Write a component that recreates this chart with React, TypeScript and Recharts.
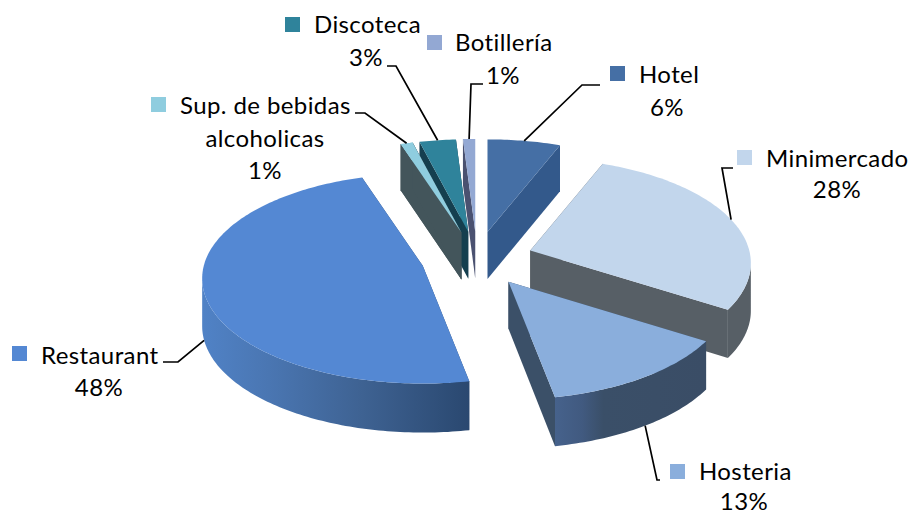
import React from 'react';
import { PieChart, Pie } from 'recharts';

const categories = ['Hotel', 'Minimercado', 'Hosteria', 'Restaurant', 'Sup. de bebidas alcoholicas', 'Discoteca', 'Botillería'];
const shares = [6, 28, 13, 48, 1, 3, 1];

const topColors = ['#456fa5', '#c2d6ec', '#8aaedc', '#5488d3', '#8fcddf', '#2f839b', '#93a8d3'];
const edgeColors = ['#33598b', '#575f66', '#3b5068', '#2c4a73', '#43555b', '#153f4f', '#4a5170'];
const wallStops = [
  [['0%', '#33598b'], ['100%', '#33598b']],
  [['0%', '#575f66'], ['100%', '#575f66']],
  [['0%', '#46628c'], ['18%', '#415a80'], ['32%', '#3a4f68'], ['100%', '#3a4d66']],
  [['0%', '#5082c6'], ['25%', '#4a76b2'], ['60%', '#3e6292'], ['100%', '#2a4870']],
  [['0%', '#43555b'], ['100%', '#43555b']],
  [['0%', '#153f4f'], ['100%', '#153f4f']],
  [['0%', '#4a5170'], ['100%', '#4a5170']],
];

// where the legend-style labels sit, one entry per category
const labelLayout = [
  { marker: [610, 66], lines: [['Hotel', 639, 83, 'start'], ['6%', 667, 116, 'middle']], elbow: [[582, 85], [600, 85]] },
  { marker: [737, 150], lines: [['Minimercado', 766, 167, 'start'], ['28%', 837, 198, 'middle']], elbow: [[722, 168], [733, 168]] },
  { marker: [670, 464], lines: [['Hosteria', 699, 480, 'start'], ['13%', 744, 510, 'middle']], elbow: [[657, 480], [660, 480]] },
  { marker: [12, 346], lines: [['Restaurant', 41, 364, 'start'], ['48%', 99, 396, 'middle']], elbow: [[178, 362], [163, 362]] },
  { marker: [151, 97], lines: [['Sup. de bebidas', 180, 114, 'start'], ['alcoholicas', 265, 147, 'middle'], ['1%', 265, 179, 'middle']], elbow: [[365, 113], [355, 113]] },
  { marker: [285, 17], lines: [['Discoteca', 314, 33, 'start'], ['3%', 366, 66, 'middle']], elbow: [[396, 66], [387, 66]] },
  { marker: [427, 35], lines: [['Botillería', 455, 51, 'start'], ['1%', 503, 84, 'middle']], elbow: [[471, 84], [483, 84]] },
];

const TILT = 0.473;
const PERSPECTIVE = 0.12;
const EXPLODE_X = 56;
const EXPLODE_Y = 27.6;

const pieData = categories.map((name, i) => ({ name, value: shares[i] }));

const rad = (deg: number) => (deg * Math.PI) / 180;

// recharts angles run counter-clockwise from 3 o'clock, here 0 is the top and it goes clockwise
const clockwise = (angle: number) => 90 - angle;

const apexOf = (cx: number, cy: number, mid: number) => [
  cx + EXPLODE_X * Math.sin(rad(mid)),
  cy - EXPLODE_Y * Math.cos(rad(mid)),
];

const onDisc = (ax: number, ay: number, r: number, deg: number) => {
  const s = 1 / (1 + PERSPECTIVE * Math.cos(rad(deg)));
  return [ax + r * Math.sin(rad(deg)) * s, ay - r * TILT * Math.cos(rad(deg)) * s];
};

const depthAt = (deg: number) => 47.5 - 1.5 * Math.cos(rad(deg));

const toPath = (pts: number[][]) => 'M' + pts.map((p) => `${p[0].toFixed(2)} ${p[1].toFixed(2)}`).join('L') + 'Z';

const Slice3D = (props: any) => {
  const { cx, cy, outerRadius, startAngle, endAngle, name } = props;
  const i = categories.indexOf(name);
  const from = clockwise(startAngle);
  const to = clockwise(endAngle);
  const [ax, ay] = apexOf(cx, cy, (from + to) / 2);

  const arc: number[][] = [];
  const steps = Math.max(2, Math.ceil(to - from));
  for (let k = 0; k <= steps; k++) {
    const deg = from + ((to - from) * k) / steps;
    arc.push([...onDisc(ax, ay, outerRadius, deg), depthAt(deg), deg]);
  }
  const first = arc[0];
  const last = arc[arc.length - 1];
  const apexDepth = 47;
  // only the near part of the rim shows a wall, it runs between the two x extremes of the ellipse
  const near = arc.filter((p) => Math.cos(rad(p[3])) < -PERSPECTIVE);
  const wall = [...near.map((p) => [p[0], p[1]]), ...[...near].reverse().map((p) => [p[0], p[1] + p[2]])];
  const faceA = [[ax, ay], [first[0], first[1]], [first[0], first[1] + first[2]], [ax, ay + apexDepth]];
  const faceB = [[ax, ay], [last[0], last[1]], [last[0], last[1] + last[2]], [ax, ay + apexDepth]];
  const top = [[ax, ay], ...arc.map((p) => [p[0], p[1]])];

  return (
    <g>
      <defs>
        <linearGradient id={`wall${i}`} x1="0" y1="0" x2="1" y2="0">
          {wallStops[i].map(([offset, color]) => (
            <stop key={offset} offset={offset} stopColor={color} />
          ))}
        </linearGradient>
      </defs>
      <path d={toPath(faceA)} fill={edgeColors[i]} />
      <path d={toPath(faceB)} fill={edgeColors[i]} />
      {near.length > 1 && <path d={toPath(wall)} fill={`url(#wall${i})`} />}
      <path d={toPath(top)} fill={topColors[i]} />
    </g>
  );
};

// the thin "Sup." slice sits in front of Discoteca, so it gets painted again on top
const FrontSlice = (props: any) => (props.name === categories[4] ? <Slice3D {...props} /> : <g />);

const SliceLabel = (props: any) => {
  const { cx, cy, outerRadius, midAngle, name } = props;
  const i = categories.indexOf(name);
  const layout = labelLayout[i];
  const mid = clockwise(midAngle);
  const [ax, ay] = apexOf(cx, cy, mid);
  const [px, py] = onDisc(ax, ay, outerRadius, mid);
  const startY = Math.cos(rad(mid)) < -0.1 ? py + depthAt(mid) : py;
  const leader = [[px, startY], ...layout.elbow];
  return (
    <g>
      <polyline points={leader.map((p) => p.join(',')).join(' ')} fill="none" stroke="#000" strokeWidth={1.7} />
      <rect x={layout.marker[0]} y={layout.marker[1]} width={15} height={15} fill={topColors[i]} />
      {layout.lines.map(([text, x, y, anchor]: any) => (
        <text key={text} x={x} y={y} textAnchor={anchor} fontFamily="Lato" fontSize={24} letterSpacing={0.4} fill="#000">
          {text}
        </text>
      ))}
    </g>
  );
};

export default function App() {
  return (
    <div style={{ position: 'absolute', left: 0, top: 0, width: 912, height: 514, background: '#fff' }}>
      <PieChart width={912} height={514} margin={{ top: 0, right: 0, bottom: 0, left: 0 }}>
        <Pie
          data={pieData}
          dataKey="value"
          nameKey="name"
          cx={477}
          cy={259}
          innerRadius={0}
          outerRadius={219}
          startAngle={90}
          endAngle={-270}
          stroke="none"
          isAnimationActive={false}
          shape={Slice3D}
          label={SliceLabel}
          labelLine={false}
        />
        <Pie
          data={pieData}
          dataKey="value"
          nameKey="name"
          cx={477}
          cy={259}
          innerRadius={0}
          outerRadius={219}
          startAngle={90}
          endAngle={-270}
          stroke="none"
          isAnimationActive={false}
          shape={FrontSlice}
          legendType="none"
        />
      </PieChart>
    </div>
  );
}
